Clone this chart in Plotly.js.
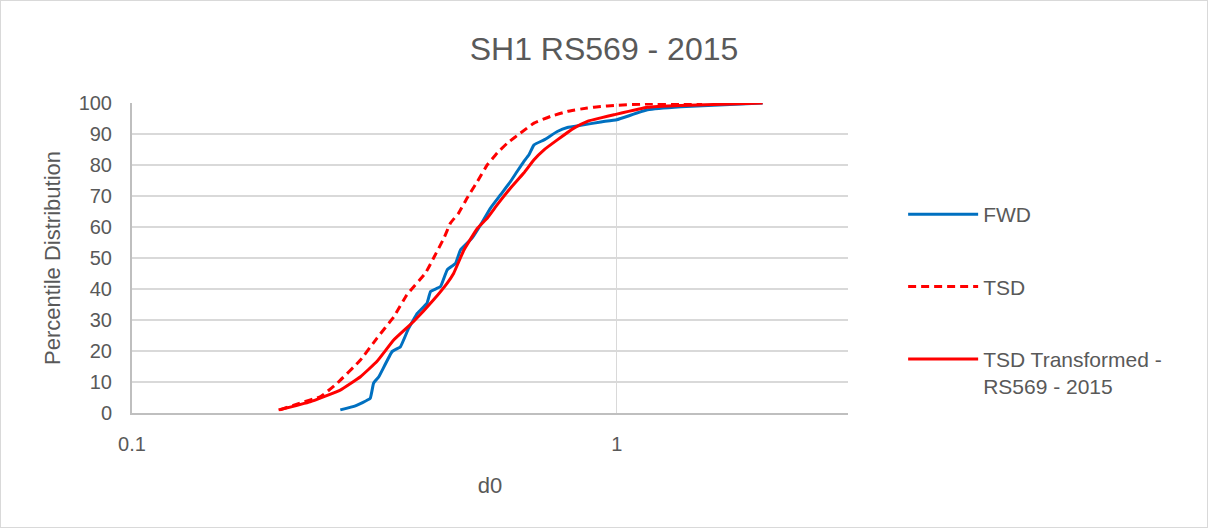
<!DOCTYPE html>
<html>
<head>
<meta charset="utf-8">
<script src="https://cdn.plot.ly/plotly-3.0.1.min.js"></script>
<style>
html,body{margin:0;padding:0;background:#fff;}
#chart{width:1206px;height:526px;border:1px solid #d9d9d9;}
</style>
</head>
<body>
<div id="chart"></div>
<script>
// FWD
const fwdX = [0.269,0.289,0.310,0.315,0.323,0.344,0.358,0.372,0.388,0.406,0.413,0.433,0.447,0.465,0.476,0.503,0.524,0.549,0.576,0.604,0.623,0.643,0.659,0.675,0.708,0.754,0.791,0.843,0.927,1.0,1.157,1.356,2.0];
const fwdY = [1.0,2.3,4.7,9.6,11.7,19.8,21.4,27.3,32.2,35.4,39.2,40.8,46.2,48.3,52.6,56.4,60.7,66.1,70.4,74.7,77.9,81.1,83.3,86.5,88.1,90.8,92.1,92.8,93.9,94.6,97.8,98.8,100];
// TSD
const tsdX = [0.202,0.222,0.245,0.265,0.296,0.320,0.347,0.369,0.403,0.419,0.440,0.454,0.472,0.491,0.516,0.541,0.567,0.595,0.633,0.675,0.731,0.791,0.870,0.927,0.987,1.157,1.356,1.5];
const tsdY = [1.0,3.2,5.3,9.6,17.1,24.1,31.1,38.1,45.1,50.0,56.4,61.3,64.5,69.3,74.7,80.1,83.9,87.1,90.3,93.5,95.7,97.3,98.4,98.9,99.2,99.7,99.9,100];
// TSD Transformed - RS569 - 2015
const trX = [0.2006,0.233,0.269,0.296,0.320,0.347,0.381,0.419,0.447,0.461,0.484,0.516,0.541,0.567,0.604,0.643,0.675,0.708,0.754,0.816,0.870,0.927,0.987,1.157,1.356,2.0];
const trY = [1.0,3.6,7.4,11.7,16.6,23.6,29.5,36.5,41.9,45.1,52.6,59.6,62.9,67.2,72.6,77.4,81.7,84.9,88.1,91.9,94.1,95.2,96.2,98.6,99.2,100];

const seriesNames = ["FWD","TSD","TSD Transformed -<br>RS569 - 2015"];
const xTickVals = [0.1,1];
const xTickText = ["0.1","1"];
const yTickVals = [0,10,20,30,40,50,60,70,80,90,100];

const FONT = '"Liberation Sans", Arial, sans-serif';
const GREY = '#595959';

const traces = [
  {x: fwdX, y: fwdY, name: seriesNames[0], legendgroup:'a', mode:'lines', line:{color:'#0070C0', width:3, shape:'spline', smoothing:0.3}},
  {x: tsdX, y: tsdY, name: seriesNames[1], legendgroup:'b', mode:'lines', line:{color:'#FF0000', width:3, dash:'8px,5px', shape:'spline', smoothing:0.3}},
  {x: trX, y: trY, name: seriesNames[2], legendgroup:'c', mode:'lines', line:{color:'#FF0000', width:3, shape:'spline', smoothing:0.3}}
];

const layout = {
  width: 1206, height: 526,
  margin: {l:131, r:359, t:102, b:114},
  paper_bgcolor:'#fff', plot_bgcolor:'#fff',
  font: {family: FONT, color: GREY, size: 20},
  title: {text:'SH1 RS569 - 2015', font:{family:FONT, size:32, color:GREY}, x:0.5, xref:'container', xanchor:'center', y:0.91, yanchor:'middle'},
  xaxis: {
    type:'log', range:[Math.log10(0.1), Math.log10(3)],
    tickvals: xTickVals, ticktext: xTickText,
    showgrid:true, gridcolor:'#d9d9d9', gridwidth:1.5,
    showline:true, linecolor:'#bfbfbf', linewidth:2,
    ticks:'', ticklabelstandoff:12,
    tickfont:{size:20, color:GREY},
    zeroline:false,
    title:{text:'d0', font:{size:22, color:GREY}, standoff:24}
  },
  yaxis: {
    range:[0,100], tickvals: yTickVals,
    showgrid:true, gridcolor:'#d9d9d9', gridwidth:1.5,
    showline:true, linecolor:'#bfbfbf', linewidth:2,
    ticks:'', ticklabelstandoff:14,
    tickfont:{size:20, color:GREY},
    zeroline:false,
    title:{text:'Percentile Distribution', font:{size:22, color:GREY}, standoff:12}
  },
  showlegend:true,
  legend: {
    x:1.077, xanchor:'left', y:0.706, yanchor:'top',
    font:{size:21, color:GREY},
    itemwidth:70, tracegroupgap:42, valign:'top',
    bgcolor:'rgba(0,0,0,0)', traceorder:'grouped'
  }
};

Plotly.newPlot('chart', traces, layout, {displayModeBar:false, staticPlot:true});
</script>
</body>
</html>
